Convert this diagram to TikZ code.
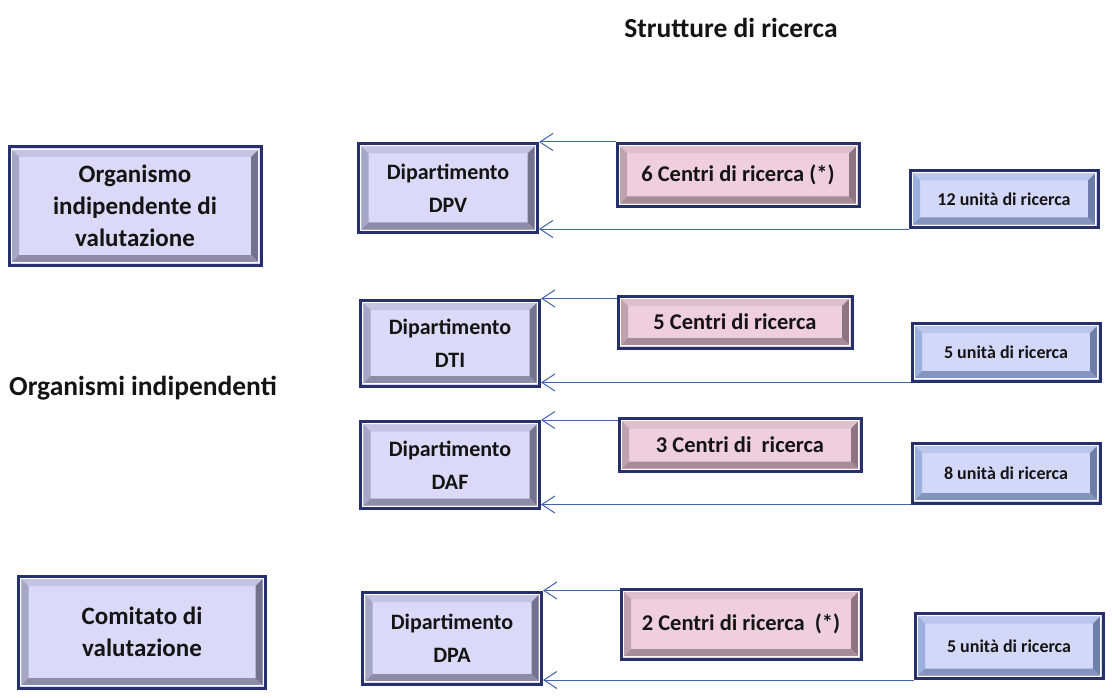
\documentclass[tikz,border=0pt]{standalone}
\usepackage{fontspec}
\setmainfont{Carlito}
\usetikzlibrary{calc,arrows.meta}

\definecolor{rahmen}{HTML}{26306A}
\definecolor{testo}{HTML}{141414}
\definecolor{linea}{HTML}{4262AA}
\definecolor{lilla}{HTML}{DADAF8}
\definecolor{lillaA}{HTML}{C4C4E2}
\definecolor{lillaB}{HTML}{A6A6C6}
\definecolor{lillaC}{HTML}{72728E}
\definecolor{lillaD}{HTML}{8C8CA8}
\definecolor{rosa}{HTML}{EFCEDE}
\definecolor{rosaA}{HTML}{DCC0CC}
\definecolor{rosaB}{HTML}{BFA2AE}
\definecolor{rosaC}{HTML}{8E7480}
\definecolor{rosaD}{HTML}{A68C98}
\definecolor{celeste}{HTML}{D4D8F8}
\definecolor{celesteA}{HTML}{BAC6EC}
\definecolor{celesteB}{HTML}{9CB0E0}
\definecolor{celesteC}{HTML}{6E7EA8}
\definecolor{celesteD}{HTML}{8494BC}

% cornice smussata: alto, sinistra, destra, basso
\newcommand{\cornice}[4]{%
  \path (path picture bounding box.south west) coordinate (bsw)
        (path picture bounding box.north east) coordinate (bne);
  \path ($(bsw)+(2.9pt,2.9pt)$) coordinate (o1) ($(bne)-(2.9pt,2.9pt)$) coordinate (o3)
        ($(bsw)+(10pt,10pt)$) coordinate (i1) ($(bne)-(10pt,10pt)$) coordinate (i3);
  \fill[#1] (o1|-o3) -- (o3) -- (i3) -- (i1|-i3) -- cycle;
  \fill[#2] (o1) -- (o1|-o3) -- (i1|-i3) -- (i1) -- cycle;
  \fill[#3] (o3|-o1) -- (o3) -- (i3) -- (i3|-i1) -- cycle;
  \fill[#4] (o1) -- (o3|-o1) -- (i3|-i1) -- (i1) -- cycle;
  \draw[white, line width=1.1pt] ($(bsw)+(2.2pt,2.2pt)$) rectangle ($(bne)-(2.2pt,2.2pt)$);
}

\tikzstyle{box} = [draw=rahmen, line width=3pt, inner sep=0pt, align=center, text=testo]
\tikzstyle{organo} = [box, fill=lilla, minimum width=252pt, font=\bfseries\fontsize{25}{32}\selectfont,
    path picture={\cornice{lillaA}{lillaB}{lillaC}{lillaD}}]
\tikzstyle{dip} = [box, fill=lilla, minimum width=179pt, minimum height=89pt, font=\bfseries\fontsize{22}{33}\selectfont,
    path picture={\cornice{lillaA}{lillaB}{lillaC}{lillaD}}]
\tikzstyle{centro} = [box, fill=rosa, minimum width=242pt, font=\bfseries\fontsize{22.5}{26}\selectfont,
    path picture={\cornice{rosaA}{rosaB}{rosaC}{rosaD}}]
\tikzstyle{unita} = [box, fill=celeste, minimum width=188pt, font=\bfseries\fontsize{18}{22}\selectfont,
    path picture={\cornice{celesteA}{celesteB}{celesteC}{celesteD}}]
\tikzstyle{titolo} = [inner sep=0pt, text=testo, font=\bfseries\fontsize{27.5}{32}\selectfont]
\tikzstyle{pfeil} = [draw=linea, line width=1pt, -{Straight Barb[length=13pt,width=17pt]}]

\begin{document}
\begin{tikzpicture}[x=1pt, y=-1pt]
    \useasboundingbox (0,0) rectangle (1112,698);

    \node[titolo] (strutture) at (731,28) {Strutture di ricerca};
    \node[titolo] (indip) at (143,388) {Organismi indipendenti};

    \node[organo, minimum height=118pt] (oiv) at (135,206) {Organismo\\indipendente di\\valutazione};
    \node[organo, minimum height=112pt, minimum width=247pt] (cdv) at (142,632) {Comitato di\\valutazione};

    \node[dip] (dpv) at (448,188) {Dipartimento\\DPV};
    \node[dip, minimum height=86pt] (dti) at (450,343) {Dipartimento\\DTI};
    \node[dip, minimum height=87pt] (daf) at (450,465) {Dipartimento\\DAF};
    \node[dip, minimum height=92pt] (dpa) at (452,638) {Dipartimento\\DPA};

    \node[centro, minimum height=63pt] (c6) at (738,175) {6 Centri di ricerca (*)};
    \node[centro, minimum height=52pt, minimum width=234pt] (c5) at (735,322) {5 Centri di ricerca};
    \node[centro, minimum height=53pt] (c3) at (740,445) {3 Centri di~ ricerca};
    \node[centro, minimum height=70pt, minimum width=240pt] (c2) at (741,624) {2 Centri di ricerca~ (*)};

    \node[unita, minimum height=57pt] (u12) at (1004,199) {12 unità di ricerca};
    \node[unita, minimum height=58pt] (u5a) at (1006,352) {5 unità di ricerca};
    \node[unita, minimum height=60pt] (u8) at (1006,473) {8 unità di ricerca};
    \node[unita, minimum height=65pt] (u5b) at (1009,646) {5 unità di ricerca};

    % collegamenti verso i dipartimenti
    \draw[pfeil] (c6.west |- dpv.north east) -- (dpv.north east);
    \draw[pfeil] (u12.south west) -- (u12.south west -| dpv.east);
    \draw[pfeil] (c5.west |- dti.north east) -- (dti.north east);
    \draw[pfeil] (u5a.south west) -- (u5a.south west -| dti.east);
    \draw[pfeil] (c3.west |- daf.north east) -- (daf.north east);
    \draw[pfeil] (u8.south west) -- (u8.south west -| daf.east);
    \draw[pfeil] (c2.west |- dpa.north east) -- (dpa.north east);
    \draw[pfeil] (u5b.south west) -- (u5b.south west -| dpa.east);
\end{tikzpicture}
\end{document}
